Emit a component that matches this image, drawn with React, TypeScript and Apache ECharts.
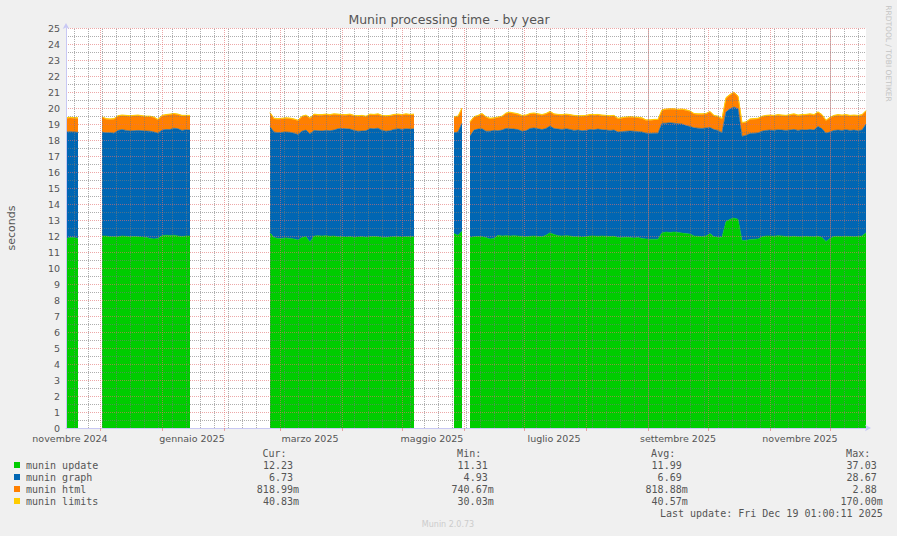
import React, { useEffect, useRef } from 'react';
import * as echarts from 'echarts';

const DAY = 86400000;
const rangeStart = Date.UTC(2024, 10, 14);
const rangeEnd = Date.UTC(2025, 11, 19);
const stepDays = 2; // one sample every 2 days from rangeStart, null = no data

const monthLabels = ['novembre 2024', 'gennaio 2025', 'marzo 2025', 'maggio 2025', 'luglio 2025', 'settembre 2025', 'novembre 2025'];
const monthLabelDates = ['2024-11-16', '2025-01-16', '2025-03-16', '2025-05-16', '2025-07-16', '2025-09-16', '2025-11-16'];

const muninUpdate = [
  11.85, 11.9, 11.9, 11.85, null, null, null, null, null,
  12.0, 12.0, 11.95, 11.95, 11.95, 12.0, 11.98, 11.95, 11.97, 11.95,
  11.93, 11.92, 11.85, 11.82, 11.85, 12.02, 12.05, 12.03, 12.05, 12.0,
  11.97, 12.0, 12.0,
  null, null, null, null, null, null, null, null, null, null,
  null, null, null, null, null, null, null, null, null,
  12.2, 11.9, 11.85, 11.85, 11.88, 11.85, 11.82, 11.75, 11.9, 11.95,
  11.62, 12.0, 12.02, 12.0, 12.02, 11.98, 12.0, 11.95, 11.95, 11.93,
  11.95, 11.92, 11.93, 11.95, 11.92, 11.95, 11.97, 11.95, 11.92, 11.9,
  11.93, 11.95, 11.95, 11.93, 11.95, 11.95, 11.95,
  null, null, null, null, null, null, null, null, null,
  12.15, 12.05, 12.3, null,
  11.9, 11.95, 11.97, 11.95, 11.9, 11.82, 11.85, 12.05, 12.0, 12.02,
  12.0, 12.02, 12.0, 11.97, 11.95, 11.98, 12.0, 11.97, 11.95, 12.05,
  12.2, 12.1, 12.02, 12.0, 12.02, 12.0, 11.95, 11.95, 11.93, 11.95,
  12.0, 12.0, 11.98, 12.0, 11.98, 11.97, 11.98, 11.9, 11.9, 11.92,
  11.9, 11.88, 11.9, 11.85, 11.82, 11.8, 11.8, 11.8, 12.2, 12.25,
  12.22, 12.25, 12.22, 12.18, 12.15, 12.12, 12.0, 11.98, 11.96, 12.0,
  12.15, 11.95, 11.92, 11.92, 12.9, 13.05, 13.12, 13.05, 11.72, 11.72,
  11.78, 11.8, 11.82, 11.95, 12.0, 12.0, 11.98, 12.02, 12.0, 11.97,
  11.96, 11.98, 11.96, 11.95, 11.98, 11.96, 11.95, 11.98, 11.9, 11.65,
  11.85, 11.97, 11.98, 11.96, 11.98, 11.97, 11.95, 11.97, 12.0, 12.2,
];

const muninGraph = [
  6.65, 6.62, 6.6, 6.63, null, null, null, null, null,
  6.48, 6.45, 6.5, 6.47, 6.65, 6.65, 6.62, 6.62, 6.61, 6.65,
  6.65, 6.64, 6.7, 6.68, 6.57, 6.6, 6.61, 6.62, 6.69, 6.7,
  6.63, 6.64, 6.62,
  null, null, null, null, null, null, null, null, null, null,
  null, null, null, null, null, null, null, null, null,
  6.63, 6.6, 6.61, 6.63, 6.62, 6.63, 6.6, 6.6, 6.65, 6.67,
  6.76, 6.6, 6.56, 6.56, 6.58, 6.6, 6.62, 6.75, 6.77, 6.77,
  6.73, 6.68, 6.62, 6.61, 6.66, 6.77, 6.73, 6.79, 6.68, 6.65,
  6.65, 6.71, 6.75, 6.73, 6.75, 6.73, 6.75,
  null, null, null, null, null, null, null, null, null,
  6.3, 6.45, 6.75, null,
  6.35, 6.67, 6.71, 6.75, 6.65, 6.73, 6.75, 6.53, 6.62, 6.7,
  6.7, 6.66, 6.65, 6.58, 6.63, 6.74, 6.75, 6.73, 6.7, 6.67,
  6.67, 6.62, 6.66, 6.66, 6.68, 6.66, 6.65, 6.67, 6.65, 6.65,
  6.66, 6.64, 6.7, 6.64, 6.64, 6.63, 6.64, 6.6, 6.62, 6.63,
  6.66, 6.67, 6.62, 6.65, 6.6, 6.6, 6.62, 6.62, 6.85, 6.8,
  6.86, 6.8, 6.8, 6.82, 6.75, 6.73, 6.76, 6.76, 6.76, 6.75,
  6.63, 6.7, 6.68, 6.54, 6.85, 6.9, 6.94, 6.9, 6.5, 6.58,
  6.62, 6.62, 6.62, 6.6, 6.6, 6.62, 6.62, 6.62, 6.62, 6.63,
  6.66, 6.68, 6.64, 6.69, 6.64, 6.7, 6.67, 6.87, 6.8, 6.77,
  6.65, 6.63, 6.64, 6.64, 6.66, 6.63, 6.67, 6.61, 6.62, 6.8,
];

const muninHtml = [
  0.85, 0.86, 0.86, 0.87, null, null, null, null, null,
  0.94, 0.85, 0.83, 0.88, 0.88, 0.87, 0.9, 0.91, 0.92, 0.92,
  0.9, 0.89, 0.9, 0.9, 0.83, 0.88, 0.89, 0.93, 0.88, 0.88,
  0.9, 0.86, 0.88,
  null, null, null, null, null, null, null, null, null, null,
  null, null, null, null, null, null, null, null, null,
  0.84, 0.82, 0.84, 0.84, 0.85, 0.85, 0.86, 0.85, 0.9, 0.9,
  0.97, 0.98, 0.97, 0.99, 0.98, 0.97, 0.98, 0.88, 0.83, 0.85,
  0.9, 0.9, 0.93, 0.94, 0.87, 0.86, 0.86, 0.86, 0.9, 0.93,
  0.92, 0.9, 0.88, 0.89, 0.9, 0.88, 0.88,
  null, null, null, null, null, null, null, null, null,
  0.97, 0.95, 0.9, null,
  0.85, 0.8, 0.82, 0.92, 0.87, 0.77, 0.75, 0.82, 0.83, 0.93,
  1.0, 0.97, 0.95, 0.95, 0.94, 0.9, 0.9, 0.9, 0.9, 0.9,
  0.88, 0.88, 0.88, 0.89, 0.88, 0.89, 0.9, 0.86, 0.9, 0.9,
  0.9, 0.91, 0.88, 0.88, 0.88, 0.88, 0.88, 0.82, 0.84, 0.85,
  0.86, 0.85, 0.86, 0.85, 0.8, 0.82, 0.83, 0.83, 0.8, 0.85,
  0.84, 0.87, 0.86, 0.9, 0.95, 0.93, 0.86, 0.86, 0.88, 0.87,
  0.97, 0.85, 0.85, 0.84, 0.85, 0.85, 0.89, 0.75, 0.83, 0.8,
  0.88, 0.88, 0.88, 0.9, 0.9, 0.9, 0.9, 0.91, 0.9, 0.9,
  0.93, 0.94, 0.92, 0.91, 0.94, 0.94, 0.93, 0.87, 0.85, 0.78,
  0.88, 0.9, 0.93, 0.92, 0.91, 0.9, 0.9, 0.92, 0.93, 0.8,
];

const muninLimits = [
  0.04, 0.04, 0.04, 0.04, null, null, null, null, null,
  0.04, 0.04, 0.04, 0.04, 0.04, 0.04, 0.04, 0.04, 0.04, 0.04,
  0.04, 0.04, 0.04, 0.04, 0.04, 0.04, 0.04, 0.04, 0.04, 0.04,
  0.04, 0.04, 0.04,
  null, null, null, null, null, null, null, null, null, null,
  null, null, null, null, null, null, null, null, null,
  0.05, 0.04, 0.04, 0.04, 0.04, 0.04, 0.04, 0.04, 0.04, 0.04,
  0.04, 0.04, 0.04, 0.04, 0.04, 0.04, 0.04, 0.04, 0.04, 0.04,
  0.04, 0.04, 0.04, 0.04, 0.04, 0.04, 0.04, 0.04, 0.04, 0.04,
  0.04, 0.04, 0.04, 0.04, 0.04, 0.04, 0.04,
  null, null, null, null, null, null, null, null, null,
  0.04, 0.04, 0.05, null,
  0.04, 0.04, 0.04, 0.04, 0.04, 0.04, 0.04, 0.04, 0.04, 0.04,
  0.04, 0.04, 0.04, 0.04, 0.04, 0.04, 0.04, 0.04, 0.04, 0.04,
  0.04, 0.04, 0.04, 0.04, 0.04, 0.04, 0.04, 0.04, 0.04, 0.04,
  0.04, 0.04, 0.04, 0.04, 0.04, 0.04, 0.04, 0.04, 0.04, 0.04,
  0.04, 0.04, 0.04, 0.04, 0.04, 0.04, 0.04, 0.04, 0.04, 0.04,
  0.04, 0.04, 0.04, 0.04, 0.04, 0.04, 0.04, 0.04, 0.04, 0.04,
  0.04, 0.04, 0.04, 0.04, 0.05, 0.05, 0.05, 0.05, 0.04, 0.04,
  0.04, 0.04, 0.04, 0.04, 0.04, 0.04, 0.04, 0.04, 0.04, 0.04,
  0.04, 0.04, 0.04, 0.04, 0.04, 0.04, 0.04, 0.04, 0.04, 0.04,
  0.04, 0.04, 0.04, 0.04, 0.04, 0.04, 0.04, 0.04, 0.04, 0.04,
];

const legendNames = ['munin update', 'munin graph', 'munin html', 'munin limits'];
const legendColors = ['#00cc00', '#0066b3', '#ff8000', '#ffcc00'];
const curValues = ['12.23', '6.73', '818.99m', '40.83m'];
const minValues = ['11.31', '4.93', '740.67m', '30.03m'];
const avgValues = ['11.99', '6.69', '818.88m', '40.57m'];
const maxValues = ['37.03', '28.67', '2.88', '170.00m'];
const lastUpdate = 'Last update: Fri Dec 19 01:00:11 2025';

const textColor = '#555555';
const axisColor = '#c8c8f4';
const majorGrid = 'rgba(225,110,110,0.6)';
const minorGrid = 'rgba(120,120,120,0.6)';
const mono = '"DejaVu Sans Mono", monospace';
const sans = '"DejaVu Sans", sans-serif';

function dateTs(s: string) {
  const [y, m, d] = s.split('-').map(Number);
  return Date.UTC(y, m - 1, d);
}

const App: React.FC = () => {
  const chartRef = useRef<HTMLDivElement>(null);

  useEffect(() => {
    if (!chartRef.current) return;
    const chart = echarts.init(chartRef.current, undefined, { renderer: 'svg' });

    const labelTs = monthLabelDates.map(dateTs);
    // sample times, one per value (category axis spanning the same range)
    const sampleTimes = muninUpdate.map((_, i) => String(rangeStart + i * stepDays * DAY));

    // month starts (major grid) and mondays (minor grid)
    const monthStarts: number[] = [];
    for (let k = 0; k < 14; k++) {
      const t = Date.UTC(2024, 11 + k, 1);
      if (t > rangeStart && t < rangeEnd) monthStarts.push(t);
    }
    const mondays: number[] = [];
    for (let t = Date.UTC(2024, 10, 18); t < rangeEnd; t += 7 * DAY) mondays.push(t);

    const seriesData = [muninUpdate, muninGraph, muninHtml, muninLimits];

    const graphic: any[] = [
      {
        type: 'text', x: 449, y: 19.5,
        style: { text: 'Munin processing time - by year', fill: textColor, fontSize: 12.5, fontFamily: sans, align: 'center', verticalAlign: 'middle', textAlign: 'center', textVerticalAlign: 'middle' },
      },
      {
        type: 'text', x: 11, y: 228, rotation: Math.PI / 2,
        style: { text: 'seconds', fill: textColor, fontSize: 11, fontFamily: sans, align: 'center', verticalAlign: 'middle', textAlign: 'center', textVerticalAlign: 'middle' },
      },
      {
        type: 'text', x: 888, y: 53.5, rotation: -Math.PI / 2,
        style: { text: 'RRDTOOL / TOBI OETIKER', fill: '#c4c4c4', fontSize: 7.5, fontFamily: sans, align: 'center', verticalAlign: 'middle', textAlign: 'center', textVerticalAlign: 'middle' },
      },
      {
        type: 'text', x: 448, y: 524.5,
        style: { text: 'Munin 2.0.73', fill: '#cccccc', fontSize: 8, fontFamily: sans, align: 'center', verticalAlign: 'middle', textAlign: 'center', textVerticalAlign: 'middle' },
      },
    ];

    const rightText = (text: string, x: number, y: number) => ({
      type: 'text', x, y,
      style: { text, fill: textColor, fontSize: 10, fontFamily: mono, align: 'right', verticalAlign: 'middle', textAlign: 'right', textVerticalAlign: 'middle' },
    });

    // column headers
    const colRight = [299, 493.7, 687.7, 882.7];
    ['Cur:', 'Min:', 'Avg:', 'Max:'].forEach((h, c) => graphic.push(rightText(h, colRight[c] - 12.5, 453)));

    const columns = [curValues, minValues, avgValues, maxValues];
    legendNames.forEach((name, r) => {
      const y = 465 + r * 12;
      graphic.push({ type: 'rect', shape: { x: 14, y: y - 3, width: 6, height: 6 }, style: { fill: legendColors[r] } });
      graphic.push({
        type: 'text', x: 26, y,
        style: { text: name, fill: textColor, fontSize: 10, fontFamily: mono, align: 'left', verticalAlign: 'middle', textAlign: 'left', textVerticalAlign: 'middle' },
      });
      columns.forEach((col, c) => {
        const v = col[r];
        graphic.push(rightText(v, colRight[c] - (v.endsWith('m') ? 0 : 6), y));
      });
    });
    graphic.push(rightText(lastUpdate, 882.7, 513));

    const stacked = legendNames.map((name, s) => ({
      name,
      type: 'line',
      stack: 'total',
      xAxisIndex: 1,
      symbol: 'none',
      showSymbol: false,
      lineStyle: { width: s === 3 ? 1 : 0.6, color: legendColors[s] },
      areaStyle: { color: legendColors[s], opacity: 1 },
      data: seriesData[s],
    }));

    // weekly minor grid lines, drawn above the areas like rrdtool does
    const weekGrid = {
      name: 'weeks',
      type: 'line',
      xAxisIndex: 0,
      data: [],
      z: 3,
      silent: true,
      markLine: {
        silent: true,
        symbol: ['none', 'none'],
        label: { show: false },
        lineStyle: { color: minorGrid, type: [1, 1], width: 1 },
        data: mondays.map((t) => ({ xAxis: t })),
      },
    };

    chart.setOption({
      animation: false,
      backgroundColor: '#f0f0f0',
      grid: { left: 66, right: 31, top: 28, bottom: 108, show: true, backgroundColor: '#ffffff', borderWidth: 0 },
      xAxis: [
        {
          type: 'value', min: rangeStart, max: rangeEnd, position: 'bottom', z: 5,
          axisLine: { show: true, onZero: false, lineStyle: { color: axisColor, width: 1 }, symbol: ['none', 'arrow'], symbolSize: [5, 6], symbolOffset: [0, 5] },
          axisTick: { show: true, customValues: monthStarts, length: 3, lineStyle: { color: majorGrid } },
          axisLabel: {
            show: true, customValues: labelTs, color: textColor, fontSize: 9.5, fontFamily: sans, margin: 5,
            formatter: (v: number) => { const i = labelTs.indexOf(v); return i >= 0 ? monthLabels[i] : ''; },
          },
          splitLine: { show: true, lineStyle: { color: majorGrid, type: [1, 1], width: 1 } },
        },
        {
          type: 'category', data: sampleTimes, boundaryGap: false, position: 'bottom', show: false,
          axisLine: { show: false, onZero: false }, axisTick: { show: false }, axisLabel: { show: false }, splitLine: { show: false },
        },
      ],
      yAxis: {
        type: 'value', min: 0, max: 25, interval: 0.5, z: 5,
        axisLine: { show: true, lineStyle: { color: axisColor, width: 1 }, symbol: ['none', 'arrow'], symbolSize: [5, 6], symbolOffset: [0, 5] },
        axisTick: { show: false },
        axisLabel: {
          color: textColor, fontSize: 9.5, fontFamily: sans, margin: 6,
          formatter: (v: number) => (Number.isInteger(v) ? String(v) : ''),
        },
        // whole seconds red, half seconds grey
        splitLine: { show: true, lineStyle: { color: [majorGrid, minorGrid], type: [1, 1], width: 1 } },
      },
      series: [...stacked, weekGrid],
      graphic,
    });

    return () => {
      chart.dispose();
    };
  }, []);

  return (
    <div
      ref={chartRef}
      style={{ position: 'fixed', left: 0, top: 0, width: 897, height: 536 }}
    />
  );
};

export default App;
